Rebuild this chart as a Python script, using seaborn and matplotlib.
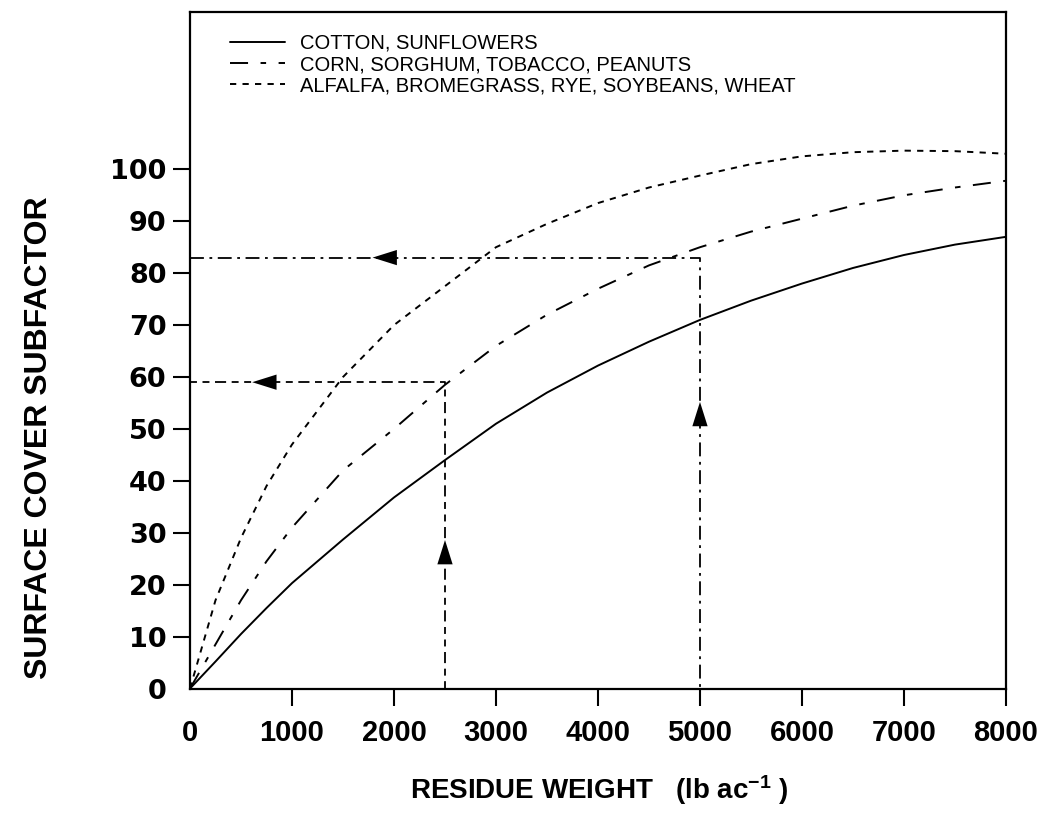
import pandas as pd
import numpy as np
import matplotlib.pyplot as plt
import seaborn as sns

# -------------------------------
# data
# -------------------------------
residue = [0, 250, 500, 750, 1000, 1500, 2000, 2500, 3000, 3500, 4000,
           4500, 5000, 5500, 6000, 6500, 7000, 7500, 8000]
cotton = [0, 5.2, 10.5, 15.5, 20.3, 28.7, 36.8, 44, 51, 57, 62.2,
          66.8, 71, 74.7, 78, 81, 83.5, 85.5, 87]
corn = [0, 8.5, 17, 24.5, 31, 42, 50, 58.5, 66, 72, 77,
        81.5, 85, 88, 90.5, 93, 95, 96.5, 97.8]
alfalfa = [0, 17, 29, 39, 47, 60, 70, 77.5, 85, 89.5, 93.5,
           96.5, 98.8, 101, 102.5, 103.3, 103.6, 103.5, 103]

crop_labels = ["COTTON, SUNFLOWERS",
               "CORN, SORGHUM, TOBACCO, PEANUTS",
               "ALFALFA, BROMEGRASS, RYE, SOYBEANS, WHEAT"]

# example read-outs (dashed guides)
guide_x = [2500, 5000]
guide_y = [59, 83]

# arrow heads: horizontal ones (tip x, base x) and vertical ones (tip y, base y)
harrow_tip = [610, 1790]
harrow_base = [850, 2040]
varrow_tip = [28.6, 55.2]
varrow_base = [23.8, 49.2]

xticks = [0, 1000, 2000, 3000, 4000, 5000, 6000, 7000, 8000]
yticks = [0, 10, 20, 30, 40, 50, 60, 70, 80, 90, 100]

# long form table for seaborn
df = pd.concat([
    pd.DataFrame({'residue': residue, 'cover': vals, 'crop': lab})
    for vals, lab in zip([cotton, corn, alfalfa], crop_labels)
])

# -------------------------------
# style
# -------------------------------
sns.set_style('ticks')
plt.rcParams['font.family'] = ['Liberation Sans', 'DejaVu Sans']
plt.rcParams['lines.scale_dashes'] = False
plt.rcParams['text.color'] = 'black'
plt.rcParams['axes.labelcolor'] = 'black'
plt.rcParams['xtick.color'] = 'black'
plt.rcParams['ytick.color'] = 'black'
plt.rcParams['mathtext.fontset'] = 'custom'
plt.rcParams['mathtext.rm'] = 'Liberation Sans:bold'
plt.rcParams['mathtext.default'] = 'rm'

fig = plt.figure(figsize=(10.48, 8.23), dpi=100)
ax = fig.add_axes([0.1813, 0.1634, 0.7786, 0.822])

dash_map = {
    crop_labels[0]: '',
    crop_labels[1]: (13, 9, 4, 9),
    crop_labels[2]: (4.5, 4.5),
}
sns.lineplot(data=df, x='residue', y='cover', style='crop', dashes=dash_map,
             color='black', lw=1.4, ax=ax, sort=False)

# guide lines
ax.plot([0, guide_x[0], guide_x[0]], [guide_y[0], guide_y[0], 0],
        color='black', lw=1.3, dashes=(5, 4, 5, 4, 8, 4))
ax.plot([0, guide_x[1], guide_x[1]], [guide_y[1], guide_y[1], 0],
        color='black', lw=1.3, dashes=(10, 4, 2, 4))

# arrow heads
for gy, tip, base in zip(guide_y, harrow_tip, harrow_base):
    ax.annotate('', xy=(tip, gy), xytext=(base, gy),
                arrowprops=dict(arrowstyle='-|>,head_length=1.75,head_width=0.55',
                                color='black', lw=0, shrinkA=0, shrinkB=0))
for gx, tip, base in zip(guide_x, varrow_tip, varrow_base):
    ax.annotate('', xy=(gx, tip), xytext=(gx, base),
                arrowprops=dict(arrowstyle='-|>,head_length=1.75,head_width=0.55',
                                color='black', lw=0, shrinkA=0, shrinkB=0))

# axes
ax.set_xlim(0, 8000)
ax.set_ylim(0, 130.3)
ax.set_xticks(xticks)
ax.set_yticks(yticks)
for side in ['left', 'right', 'top', 'bottom']:
    ax.spines[side].set_visible(True)
    ax.spines[side].set_linewidth(1.6)
    ax.spines[side].set_color('black')
ax.tick_params(axis='both', direction='out', length=12, width=1.5, color='black')
ax.tick_params(axis='x', pad=10)
ax.tick_params(axis='y', pad=5)
ax.xaxis.get_major_ticks()[0].tick1line.set_visible(False)
ax.yaxis.get_major_ticks()[0].tick1line.set_visible(False)
for lab in ax.get_xticklabels():
    lab.set_fontweight('bold')
    lab.set_fontsize(21)
for lab in ax.get_yticklabels():
    lab.set_fontfamily('DejaVu Sans')
    lab.set_fontweight('bold')
    lab.set_fontsize(19.5)

ax.set_xlabel(r'RESIDUE WEIGHT   (lb ac$^{-1}$ )', fontsize=20, fontweight='bold')
ax.set_ylabel('SURFACE COVER SUBFACTOR', fontsize=23, fontweight='bold')
ax.xaxis.set_label_coords(0.502, -0.125)
ax.yaxis.set_label_coords(-0.167, 0.371)

# legend
handles, labels = ax.get_legend_handles_labels()
ax.legend(handles[:3], labels[:3], loc='upper left', bbox_to_anchor=(0.037, 0.983),
          frameon=False, fontsize=14.5, handlelength=2.7, handletextpad=0.74,
          labelspacing=0.12, borderpad=0)

fig.savefig('out.png', dpi=100)
